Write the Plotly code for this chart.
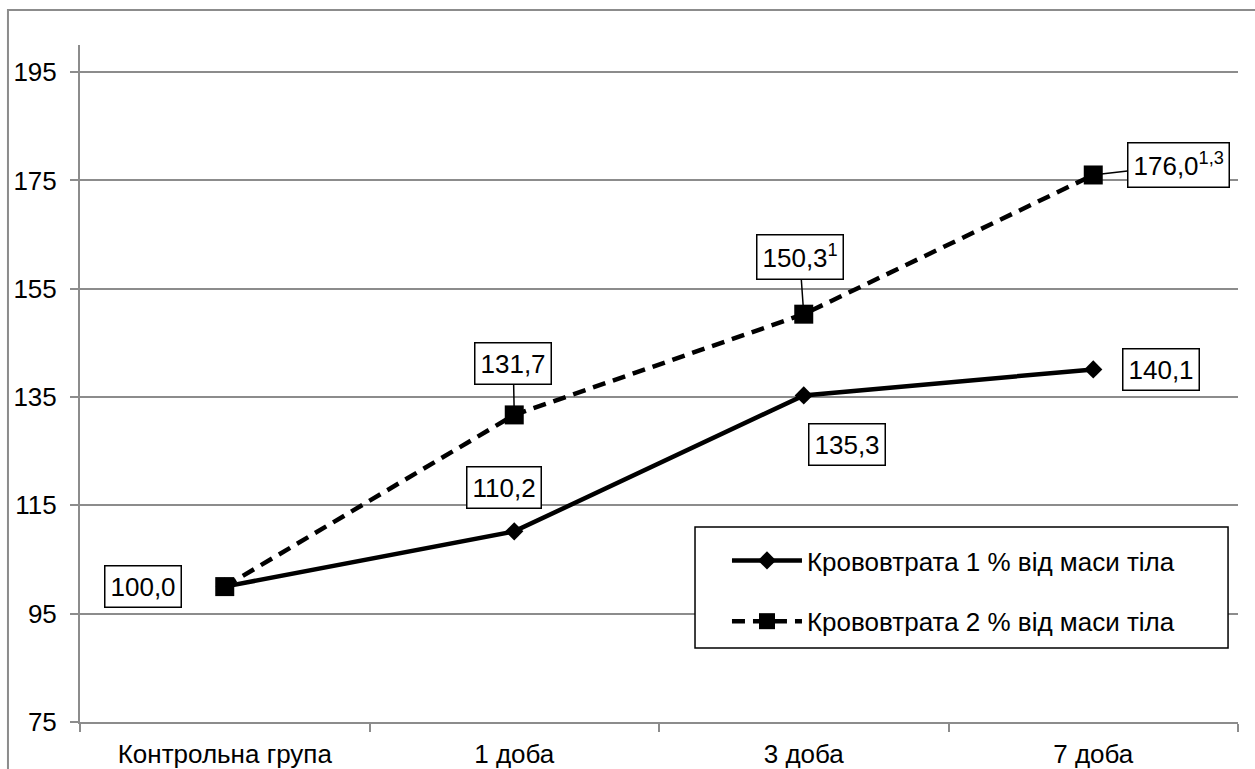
import plotly.graph_objects as go

categories = ["Контрольна група", "1 доба", "3 доба", "7 доба"]
loss_1pct = [100.0, 110.2, 135.3, 140.1]
loss_2pct = [100.0, 131.7, 150.3, 176.0]
label_1pct = ["100,0", "110,2", "135,3", "140,1"]
label_2pct = [None, "131,7", "150,3<sup>1</sup>", "176,0<sup>1,3</sup>"]
series_names = ["Крововтрата 1 % від маси тіла", "Крововтрата 2 % від маси тіла"]
y_ticks = [75, 95, 115, 135, 155, 175, 195]

FONT = "Liberation Sans, Arial, sans-serif"
FS = 26
GRID = "#8c8c8c"

fig = go.Figure()
fig.add_trace(go.Scatter(
    x=categories, y=loss_1pct, name=series_names[0], mode="lines+markers",
    line=dict(color="black", width=4.5),
    marker=dict(symbol="diamond", size=14, color="black"),
    legendgroup="a",
))
fig.add_trace(go.Scatter(
    x=categories, y=loss_2pct, name=series_names[1], mode="lines+markers",
    line=dict(color="black", width=4.5, dash="13px,8px"),
    marker=dict(symbol="square", size=19, color="black"),
    legendgroup="b",
))

# (label, x, y, pixel offset of box centre, leader line shown)
labels = [
    (label_1pct[0], categories[0], loss_1pct[0], -82, 0, False),
    (label_1pct[1], categories[1], loss_1pct[1], -10, -44, False),
    (label_1pct[2], categories[2], loss_1pct[2], 43, 49, False),
    (label_1pct[3], categories[3], loss_1pct[3], 68, 0, False),
    (label_2pct[1], categories[1], loss_2pct[1], -1, -51, True),
    (label_2pct[2], categories[2], loss_2pct[2], -4, -57, True),
    (label_2pct[3], categories[3], loss_2pct[3], 85, -10, True),
]
for text, x, y, dx, dy, leader in labels:
    fig.add_annotation(
        x=x, y=y, text=text, showarrow=True, ax=dx, ay=dy,
        axref="pixel", ayref="pixel",
        arrowhead=0, arrowwidth=1.5, standoff=6,
        arrowcolor="black" if leader else "rgba(0,0,0,0)",
        font=dict(family=FONT, size=FS, color="black"),
        bgcolor="white", bordercolor="black", borderwidth=1.5, borderpad=5,
    )

# outer chart frame
fig.add_shape(type="rect", xref="paper", yref="paper",
              x0=-0.0622, x1=1.05, y0=-0.2, y1=1.0517,
              line=dict(color=GRID, width=2), layer="below")
# legend frame
fig.add_shape(type="rect", xref="paper", yref="paper",
              x0=0.5311, x1=0.9914, y0=0.1093, y1=0.288,
              fillcolor="white", line=dict(color="black", width=1.5),
              layer="above")

fig.update_layout(
    width=1255, height=769,
    margin=dict(l=80, r=17, t=45, b=47),
    paper_bgcolor="white", plot_bgcolor="white",
    font=dict(family=FONT, size=FS, color="black"),
    showlegend=True,
    legend=dict(
        x=0.5587, y=0.2733, xanchor="left", yanchor="top",
        bgcolor="rgba(0,0,0,0)", borderwidth=0,
        font=dict(family=FONT, size=FS, color="black"),
        itemwidth=70, tracegroupgap=24, traceorder="grouped",
    ),
    xaxis=dict(
        type="category", range=[-0.5, 3.5], automargin=False,
        showline=True, linecolor=GRID, linewidth=2,
        showgrid=False, ticks="outside", tickson="boundaries",
        ticklen=8, tickcolor=GRID, tickwidth=2, ticklabelstandoff=8,
        tickfont=dict(family=FONT, size=FS, color="black"),
    ),
    yaxis=dict(
        range=[75, 200], tickvals=y_ticks, automargin=False,
        showline=True, linecolor=GRID, linewidth=2,
        showgrid=True, gridcolor=GRID, gridwidth=2,
        ticks="outside", ticklen=8, tickcolor=GRID, tickwidth=2,
        ticklabelstandoff=8,
        tickfont=dict(family=FONT, size=FS, color="black"),
        zeroline=False,
    ),
)

fig.write_html("out.html")
